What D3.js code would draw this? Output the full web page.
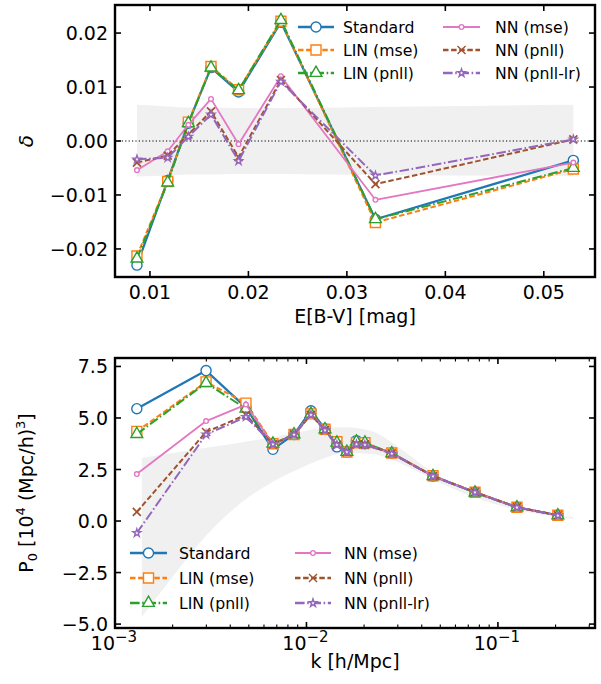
<!DOCTYPE html>
<html>
<head>
<meta charset="utf-8">
<script src="https://cdn.jsdelivr.net/npm/d3@7"></script>
<style>
  body { margin: 0; background: #fff; }
  svg { display: block; }
  text { font-family: "DejaVu Sans", sans-serif; fill: #000; }
</style>
</head>
<body>
<div id="chart"></div>
<script>
// ---- data: top panel (delta vs E[B-V]) ----
const ebv = [0.00868, 0.0118, 0.0139, 0.0162, 0.0190, 0.0233, 0.0329, 0.0530];
const deltaStandard = [-0.0230, -0.0073, 0.0033, 0.0136, 0.0091, 0.0220, -0.0145, -0.0036];
const deltaLinMse   = [-0.0213, -0.0075, 0.0035, 0.0138, 0.0095, 0.0222, -0.0151, -0.0052];
const deltaLinPnll  = [-0.0218, -0.0077, 0.0033, 0.0136, 0.0094, 0.0224, -0.0145, -0.0050];
const deltaNnMse    = [-0.0054, -0.0019, 0.0030, 0.0078, -0.0006, 0.0120, -0.0109, -0.0040];
const deltaNnPnll   = [-0.0040, -0.0027, 0.0012, 0.0055, -0.0030, 0.0113, -0.0080, 0.0003];
const deltaNnPnllLr = [-0.0034, -0.0031, 0.0008, 0.0049, -0.0037, 0.0110, -0.0064, 0.0003];
const deltaBandUp   = [0.0067, 0.0064, 0.0062, 0.0062, 0.0061, 0.0061, 0.0063, 0.0067];
const deltaBandLo   = [-0.0066, -0.0064, -0.0062, -0.0062, -0.0061, -0.0061, -0.0063, -0.0065];
const deltaTicksX = [0.01, 0.02, 0.03, 0.04, 0.05];
const deltaTicksY = [-0.02, -0.01, 0, 0.01, 0.02];

// ---- data: bottom panel (P0 vs k) ----
const kVals = [0.0013, 0.00299, 0.00483, 0.00668, 0.00861, 0.01055, 0.0125, 0.01442,
               0.01626, 0.01824, 0.0202, 0.0279, 0.0458, 0.0759, 0.1257, 0.2056];
const p0Standard = [5.45, 7.30, 5.50, 3.48, 4.20, 5.35, 4.47, 3.60, 3.35, 3.90, 3.75, 3.30, 2.18, 1.40, 0.67, 0.28];
const p0LinMse   = [4.35, 6.75, 5.72, 3.75, 4.20, 5.20, 4.45, 3.85, 3.35, 3.80, 3.80, 3.30, 2.20, 1.40, 0.67, 0.28];
const p0LinPnll  = [4.22, 6.70, 5.45, 3.75, 4.20, 5.20, 4.45, 3.80, 3.35, 3.85, 3.80, 3.28, 2.18, 1.38, 0.66, 0.27];
const p0NnMse    = [2.28, 4.85, 5.65, 3.72, 4.20, 5.20, 4.45, 3.70, 3.35, 3.75, 3.72, 3.28, 2.18, 1.40, 0.67, 0.28];
const p0NnPnll   = [0.44, 4.32, 5.15, 3.72, 4.20, 5.15, 4.42, 3.70, 3.35, 3.72, 3.72, 3.28, 2.18, 1.40, 0.67, 0.28];
const p0NnPnllLr = [-0.58, 4.20, 5.05, 3.72, 4.20, 5.15, 4.40, 3.70, 3.35, 3.72, 3.70, 3.27, 2.17, 1.39, 0.66, 0.27];
const kBand    = [0.00138, 0.0020, 0.0030, 0.0045, 0.0065, 0.009, 0.012, 0.016, 0.022, 0.030, 0.045, 0.075, 0.125, 0.247];
const p0BandUp = [3.06, 3.30, 3.55, 3.80, 4.05, 4.30, 4.50, 4.55, 4.35, 3.60, 2.40, 1.40, 0.65, 0.19];
const p0BandLo = [-4.66, -2.70, -0.70, 0.85, 1.85, 2.50, 3.00, 3.30, 3.25, 2.85, 2.05, 1.15, 0.55, 0.10];
const p0TicksY = [-5, -2.5, 0, 2.5, 5, 7.5];

const seriesNames = ['Standard', 'LIN (mse)', 'LIN (pnll)', 'NN (mse)', 'NN (pnll)', 'NN (pnll-lr)'];
const deltaSeries = [deltaStandard, deltaLinMse, deltaLinPnll, deltaNnMse, deltaNnPnll, deltaNnPnllLr];
const p0Series = [p0Standard, p0LinMse, p0LinPnll, p0NnMse, p0NnPnll, p0NnPnllLr];

// styles (matplotlib tab10)
const styles = [
  {color: '#1f77b4', dash: null,              width: 2.2, marker: 'circle'},
  {color: '#ff7f0e', dash: '5.5,2.6',         width: 2.0, marker: 'square'},
  {color: '#2ca02c', dash: '9.6,2.6,1.6,2.6', width: 2.0, marker: 'triangle'},
  {color: '#e377c2', dash: null,              width: 1.8, marker: 'small'},
  {color: '#a0522d', dash: '5.5,2.6',         width: 2.0, marker: 'x'},
  {color: '#9467bd', dash: '9.6,2.6,1.6,2.6', width: 2.0, marker: 'star'}
];

const W = 601, H = 684;
const svg = d3.select('#chart').append('svg').attr('width', W).attr('height', H);

function markerPath(type) {
  if (type === 'circle') return d3.symbol(d3.symbolCircle, 80)();
  if (type === 'square') return d3.symbol(d3.symbolSquare, 100)();
  if (type === 'triangle') return d3.symbol(d3.symbolTriangle, 60)();
  if (type === 'small') return d3.symbol(d3.symbolCircle, 17)();
  if (type === 'star') return d3.symbol(d3.symbolStar, 19)();
  const r = 4;
  return `M${-r},${-r}L${r},${r}M${-r},${r}L${r},${-r}`;
}

function drawSeries(g, xs, ys, st, x, y) {
  const line = d3.line().x((d, i) => x(xs[i])).y(d => y(d));
  g.append('path').datum(ys)
    .attr('d', line)
    .attr('fill', 'none')
    .attr('stroke', st.color)
    .attr('stroke-width', st.width)
    .attr('stroke-dasharray', st.dash)
    .attr('stroke-linejoin', 'round');
  g.selectAll(null).data(ys).enter().append('path')
    .attr('d', markerPath(st.marker))
    .attr('transform', (d, i) => `translate(${x(xs[i])},${y(d)})`)
    .attr('fill', '#fff')
    .attr('stroke', st.color)
    .attr('stroke-width', st.marker === 'x' ? 1.7 : 1.4);
}

function drawLegend(g, x0s, rows) {
  seriesNames.forEach((name, i) => {
    const st = styles[i];
    const col = Math.floor(i / 3), row = i % 3;
    const [x1, x2, tx] = x0s[col];
    const cy = rows[row];
    g.append('line').attr('x1', x1).attr('x2', x2).attr('y1', cy).attr('y2', cy)
      .attr('stroke', st.color).attr('stroke-width', st.width + 0.4)
      .attr('stroke-dasharray', st.dash);
    g.append('path').attr('d', markerPath(st.marker))
      .attr('transform', `translate(${(x1 + x2) / 2},${cy})`)
      .attr('fill', '#fff').attr('stroke', st.color).attr('stroke-width', 1.4);
    g.append('text').attr('x', tx).attr('y', cy + 5.5)
      .style('font-size', '15.7px').text(name);
  });
}

function frame(g, L, T, R, B) {
  g.append('rect').attr('x', L).attr('y', T).attr('width', R - L).attr('height', B - T)
    .attr('fill', 'none').attr('stroke', '#000').attr('stroke-width', 2.4);
}

function tickMarks(g, x, y, xt, yt, L, T, R, B, len, sw) {
  xt.forEach(v => {
    const px = x(v);
    g.append('line').attr('x1', px).attr('x2', px).attr('y1', B).attr('y2', B - len).attr('stroke', '#000').attr('stroke-width', sw);
    g.append('line').attr('x1', px).attr('x2', px).attr('y1', T).attr('y2', T + len).attr('stroke', '#000').attr('stroke-width', sw);
  });
  yt.forEach(v => {
    const py = y(v);
    g.append('line').attr('x1', L).attr('x2', L + len).attr('y1', py).attr('y2', py).attr('stroke', '#000').attr('stroke-width', sw);
    g.append('line').attr('x1', R).attr('x2', R - len).attr('y1', py).attr('y2', py).attr('stroke', '#000').attr('stroke-width', sw);
  });
}

const fmtTick = d3.format('.2f');
const fmtTick1 = d3.format('.1f');

// ================= top panel =================
(function top() {
  const L = 115, R = 595, T = 5, B = 277;
  const x = d3.scaleLinear().domain([0.00645, 0.0552]).range([L, R]);
  const y = d3.scaleLinear().domain([-0.0252, 0.0252]).range([B, T]);
  const g = svg.append('g');

  const area = d3.area().x((d, i) => x(ebv[i])).y0((d, i) => y(deltaBandLo[i])).y1(d => y(d))
    .curve(d3.curveMonotoneX);
  g.append('path').datum(deltaBandUp).attr('d', area).attr('fill', '#f0f0f0');

  g.append('line').attr('x1', L).attr('x2', R).attr('y1', y(0)).attr('y2', y(0))
    .attr('stroke', '#000').attr('stroke-width', 1.2).attr('stroke-dasharray', '1.2,2.2');

  deltaSeries.forEach((s, i) => drawSeries(g, ebv, s, styles[i], x, y));

  drawLegend(g, [[298, 334, 343], [443, 480, 495]], [27, 50, 73]);

  tickMarks(g, x, y, deltaTicksX, deltaTicksY, L, T, R, B, 6, 1.6);
  frame(g, L, T, R, B);

  deltaTicksX.forEach(v => {
    g.append('text').attr('x', x(v)).attr('y', 299).attr('text-anchor', 'middle')
      .style('font-size', '19px').text(fmtTick(v));
  });
  deltaTicksY.forEach(v => {
    g.append('text').attr('x', 108).attr('y', y(v) + 7).attr('text-anchor', 'end')
      .style('font-size', '19px').text(fmtTick(v));
  });
  g.append('text').attr('x', (L + R) / 2).attr('y', 323).attr('text-anchor', 'middle')
    .style('font-size', '19px').text('E[B-V] [mag]');
  g.append('text').attr('transform', `translate(33,${(T + B) / 2}) rotate(-90)`)
    .attr('text-anchor', 'middle').style('font-size', '20px').style('font-style', 'italic')
    .text('δ');
})();

// ================= bottom panel =================
(function bottom() {
  const L = 115, R = 595, T = 358, B = 628;
  const x = d3.scaleLog().domain([0.001, 0.3214]).range([L, R]);
  const y = d3.scaleLinear().domain([-5.19, 7.91]).range([B, T]);
  const g = svg.append('g');

  const area = d3.area().x((d, i) => x(kBand[i])).y0((d, i) => y(p0BandLo[i])).y1(d => y(d))
    .curve(d3.curveMonotoneX);
  g.append('path').datum(p0BandUp).attr('d', area).attr('fill', '#f0f0f0');

  p0Series.forEach((s, i) => drawSeries(g, kVals, s, styles[i], x, y));

  drawLegend(g, [[130, 167, 179], [295, 331, 344]], [553, 578, 603]);

  const majors = [0.001, 0.01, 0.1];
  const minors = [];
  [-3, -2, -1].forEach(d => {
    for (let m = 2; m <= 9; m++) {
      const v = m * Math.pow(10, d);
      if (v < 0.3214) minors.push(v);
    }
  });
  tickMarks(g, x, y, majors, p0TicksY, L, T, R, B, 6, 1.6);
  tickMarks(g, x, y, minors, [], L, T, R, B, 3.5, 1.1);
  frame(g, L, T, R, B);

  majors.forEach((v, i) => {
    const t = g.append('text').attr('x', x(v) - 1).attr('y', 650).attr('text-anchor', 'middle')
      .style('font-size', '19px');
    t.append('tspan').text('10');
    t.append('tspan').attr('dy', -8).style('font-size', '15px').text('−' + (3 - i));
  });
  p0TicksY.forEach(v => {
    g.append('text').attr('x', 108).attr('y', y(v) + 7).attr('text-anchor', 'end')
      .style('font-size', '19px').text(fmtTick1(v));
  });
  g.append('text').attr('x', (L + R) / 2).attr('y', 668).attr('text-anchor', 'middle')
    .style('font-size', '19px').text('k [h/Mpc]');

  const yl = g.append('text').attr('transform', `translate(33,${(T + B) / 2}) rotate(-90)`)
    .attr('text-anchor', 'middle').style('font-size', '19px');
  yl.append('tspan').text('P');
  yl.append('tspan').attr('dy', 4).style('font-size', '13px').text('0');
  yl.append('tspan').attr('dy', -4).text(' [10');
  yl.append('tspan').attr('dy', -8).style('font-size', '13px').text('4');
  yl.append('tspan').attr('dy', 8).text(' (Mpc/h)');
  yl.append('tspan').attr('dy', -8).style('font-size', '13px').text('3');
  yl.append('tspan').attr('dy', 8).text(']');
})();
</script>
</body>
</html>
